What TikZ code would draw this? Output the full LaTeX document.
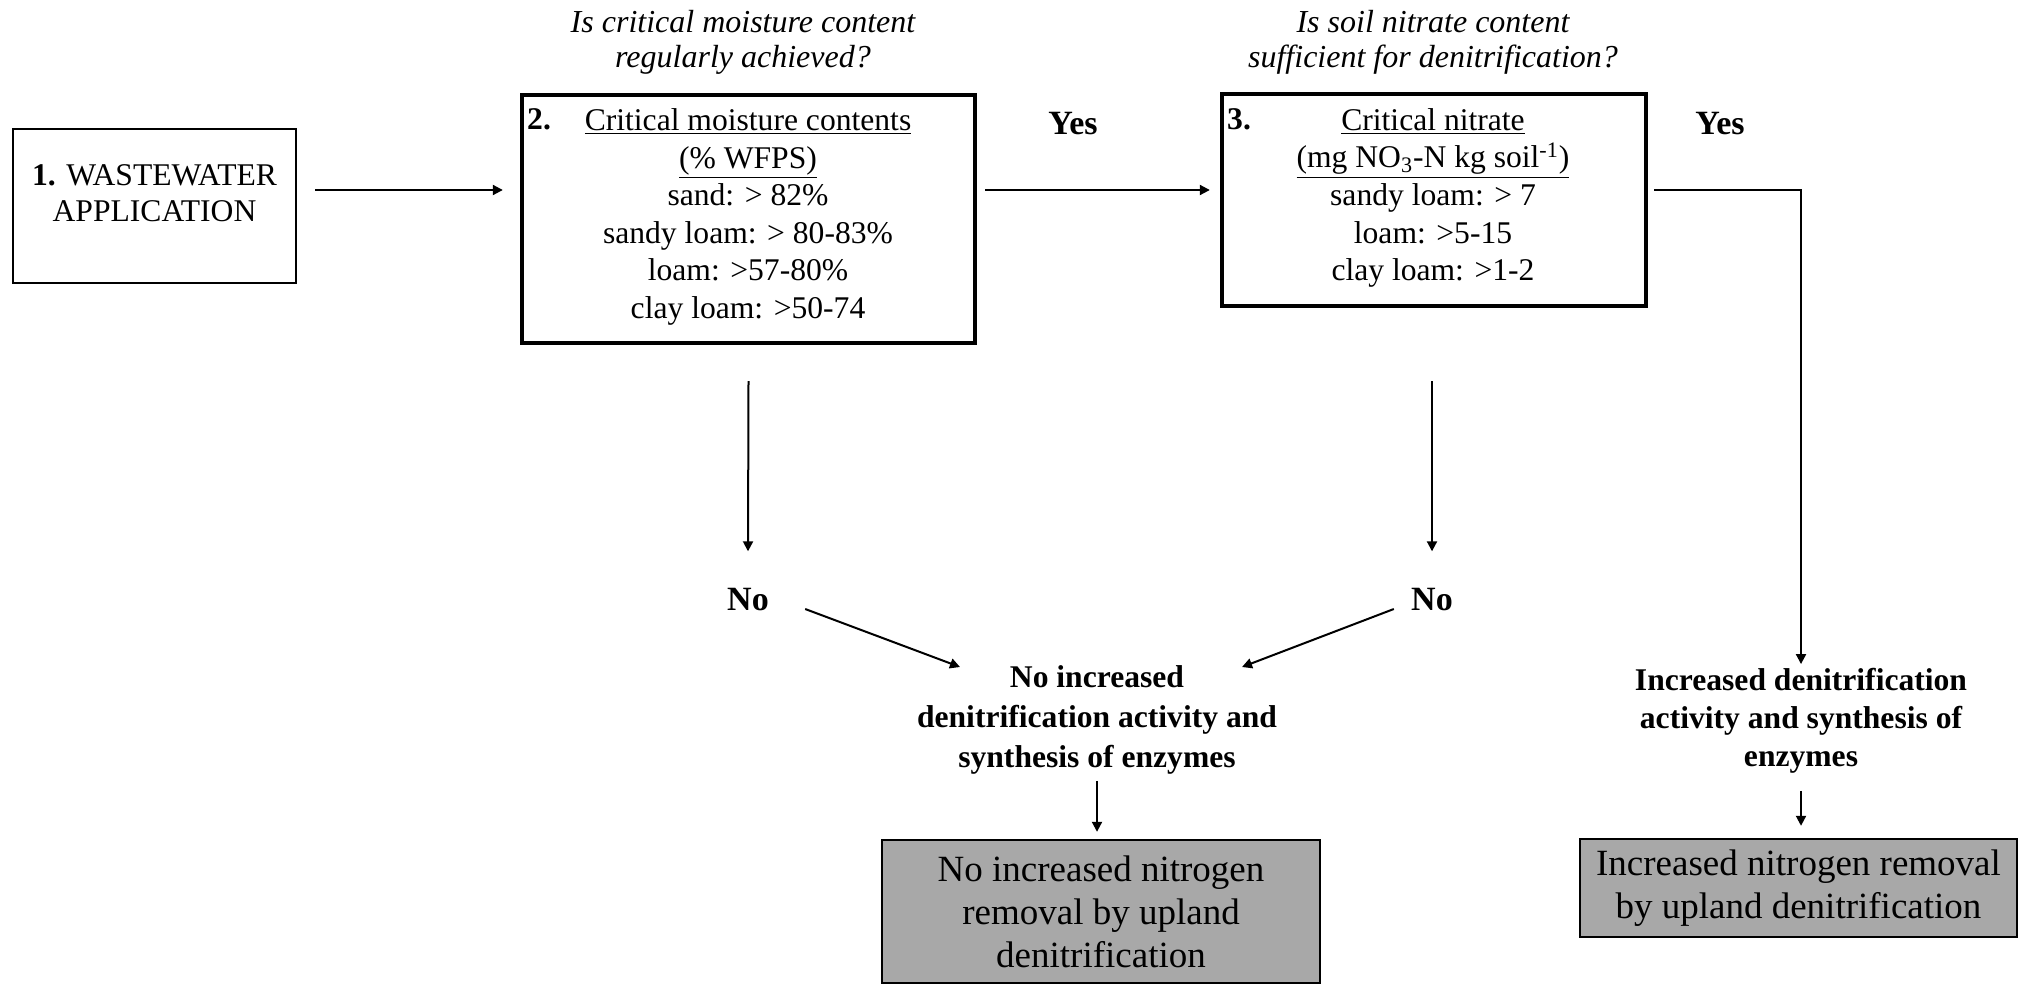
\documentclass[tikz,border=0pt]{standalone}
\usepackage{fontspec}
\setmainfont{Liberation Serif}
\usetikzlibrary{arrows.meta,calc}
\definecolor{boxgray}{RGB}{168,168,168}
\begin{document}
\begin{tikzpicture}[x=0.5pt,y=-0.5pt,
  arr/.style={line width=1pt,-{Triangle[length=5pt,width=5pt]}},
  thinbox/.style={draw,line width=1.4pt,inner sep=0pt},
  thickbox/.style={draw,line width=2.2pt,inner sep=0pt},
  graybox/.style={draw,line width=1.2pt,fill=boxgray,inner sep=0pt,align=center,font=\fontsize{18.5}{21.5}\selectfont},
  body/.style={font=\fontsize{15.8}{18.8}\selectfont,align=center,inner sep=0pt},
  num/.style={font=\fontsize{15.8}{18.8}\selectfont\bfseries,anchor=base west,inner sep=0pt},
  quest/.style={font=\fontsize{16}{17.5}\selectfont\itshape,align=center,inner sep=0pt},
  result/.style={font=\bfseries,align=center,inner sep=0pt},
  yn/.style={font=\fontsize{17}{20}\selectfont\bfseries,inner sep=0pt},
]
\useasboundingbox (0,0) rectangle (2028,985);

% box 1
\node[thinbox,minimum width=141.5pt,minimum height=77pt] (box1) at (154.5,206) {};
\node[body,font=\fontsize{15.8}{18}\selectfont] (t1) at (154.5,193) {\textbf{1.} WASTEWATER\\APPLICATION};

% box 2
\node[thickbox,minimum width=226.5pt,minimum height=124pt] (box2) at (748.5,219) {};
\node[body] (t2) at (748,217) {\underline{Critical moisture contents}\\\underline{(\% WFPS)}\\sand: > 82\%\\sandy loam: > 80-83\%\\loam: >57-80\%\\clay loam: >50-74};
\node[num] (n2) at ($(box2.north west)+(7,37)$) {2.};
\node[quest] (q1) at (743,42) {Is critical moisture content\\regularly achieved?};

% box 3
\node[thickbox,minimum width=212pt,minimum height=106pt] (box3) at (1434,200) {};
\node[body] (t3) at (1433,198) {\underline{Critical nitrate}\\\underline{(mg NO\textsubscript{3}-N kg soil\textsuperscript{-1})}\\sandy loam: > 7\\loam: >5-15\\clay loam: >1-2};
\node[num] (n3) at ($(box3.north west)+(7,38)$) {3.};
\node[quest] (q2) at (1433,42) {Is soil nitrate content\\sufficient for denitrification?};

% yes / no labels
\node[yn] (yes1) at (1073,124) {Yes};
\node[yn] (yes2) at (1720,124) {Yes};
\node[yn] (no1) at (748,600) {No};
\node[yn] (no2) at (1432,600) {No};

% outcome texts
\node[result,font=\fontsize{15.8}{20}\selectfont\bfseries] (noinc) at (1097,720) {No increased\\denitrification activity and\\synthesis of enzymes};
\node[result,font=\fontsize{15.8}{19}\selectfont\bfseries] (inc) at (1801,721) {Increased denitrification\\activity and synthesis of\\enzymes};

% gray boxes
\node[graybox,minimum width=219pt,minimum height=71.5pt] (gray1) at (1101,911.5) {No increased nitrogen\\removal by upland\\denitrification};
\node[graybox,minimum width=218.5pt,minimum height=49pt] (gray2) at (1798.5,888) {Increased nitrogen removal\\by upland denitrification};

% connectors
\draw[arr] ($(box1.east)+(18,-16)$) -- ($(box2.west)+(-17,-29)$);
\draw[arr] ($(box2.east)+(8,-29)$) -- ($(box3.west)+(-10,-10)$);
\draw[arr] ($(box3.east)+(6,-10)$) -| ($(inc.north)+(0,-4)$);
\draw[arr] ($(box2.south)+(0,36)$) -- ($(no1.north)+(0,-37)$);
\draw[arr] ($(box3.south)+(-2,73)$) -- ($(no2.north)+(0,-37)$);
\draw[arr] ($(no1.east)+(36,9)$) -- ($(noinc)+(-137,-53)$);
\draw[arr] ($(no2.west)+(-17,9)$) -- ($(noinc)+(145,-53)$);
\draw[arr] ($(noinc.south)+(0,6)$) -- ($(noinc.south |- gray1.north)+(0,-7)$);
\draw[arr] ($(inc.south)+(0,17)$) -- ($(inc.south |- gray2.north)+(0,-12)$);
\end{tikzpicture}
\end{document}
